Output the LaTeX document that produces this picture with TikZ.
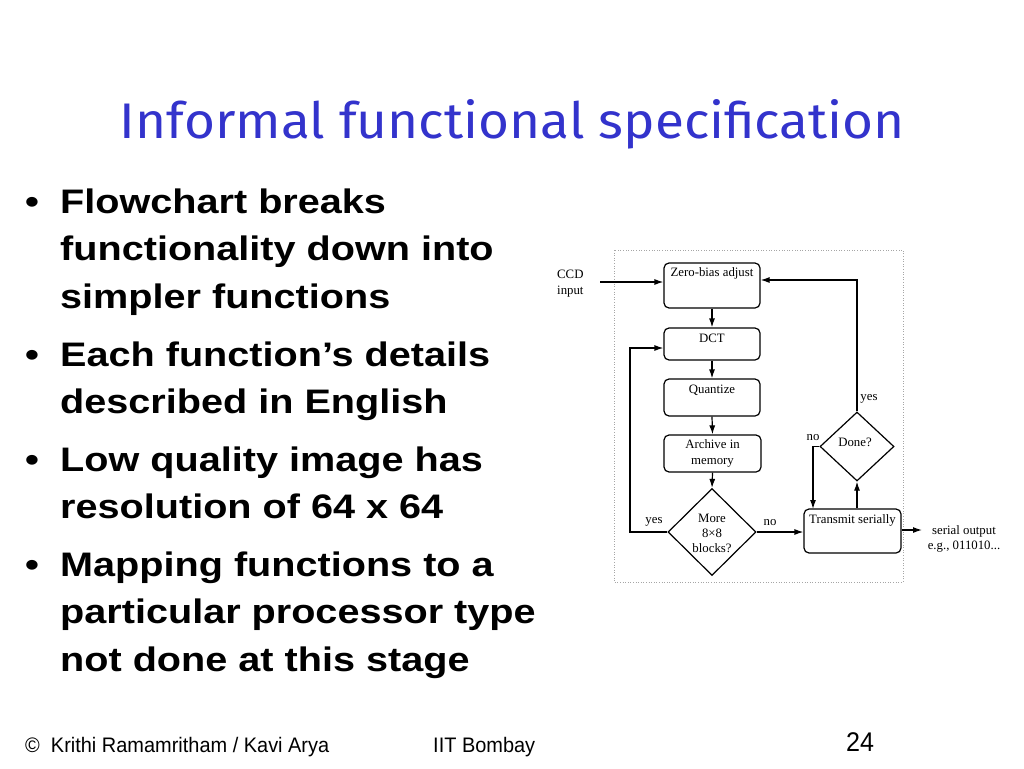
\documentclass[tikz,border=0pt]{standalone}
\usepackage{fontspec}
\setmainfont{Liberation Serif}
\newfontfamily\arialfont{Liberation Sans}
\newfontfamily\titlefont{Fira Sans}
\usetikzlibrary{arrows.meta,shapes.geometric}
\definecolor{titleblue}{RGB}{51,51,204}
\newcommand\bline[1]{\scalebox{1.165}[1]{#1}}
\newcommand\fline[1]{\scalebox{0.95}[1]{#1}}
\begin{document}
\begin{tikzpicture}[x=1pt,y=-1pt,
  box/.style={draw, rounded corners=5pt, line width=1.2pt, inner sep=0pt},
  dec/.style={draw, diamond, line width=1.2pt, inner sep=0pt},
  ftext/.style={inner sep=0pt, font=\fontsize{12.8pt}{15pt}\selectfont},
  flow/.style={line width=1.2pt, -{Latex[length=9pt,width=6pt]}},
  bl/.style={anchor=base west, inner sep=0pt, font=\arialfont\bfseries\fontsize{34pt}{40pt}\selectfont},
  foot/.style={anchor=base west, inner sep=0pt, font=\arialfont\fontsize{21pt}{24pt}\selectfont}]
\useasboundingbox (0,0) rectangle (1024,768);
\fill[white] (0,0) rectangle (1024,768);

% title
\node[anchor=base, inner sep=0pt, text=titleblue] (title) at (512.5,138)
  {\resizebox{785pt}{39pt}{\titlefont Informal functional specification}};

% bullets
\node[bl] (b1) at (25,213) {\bline{•}};
\node[bl] (l1) at (60,213) {\bline{Flowchart breaks}};
\node[bl] (l2) at (60,260) {\bline{functionality down into}};
\node[bl] (l3) at (60,308) {\bline{simpler functions}};
\node[bl] (b2) at (25,366) {\bline{•}};
\node[bl] (l4) at (60,366) {\bline{Each function’s details}};
\node[bl] (l5) at (60,413) {\bline{described in English}};
\node[bl] (b3) at (25,471) {\bline{•}};
\node[bl] (l6) at (60,471) {\bline{Low quality image has}};
\node[bl] (l7) at (60,518) {\bline{resolution of 64 x 64}};
\node[bl] (b4) at (25,576) {\bline{•}};
\node[bl] (l8) at (60,576) {\bline{Mapping functions to a}};
\node[bl] (l9) at (60,623) {\bline{particular processor type}};
\node[bl] (l10) at (60,671) {\bline{not done at this stage}};

% footer
\node[foot] (f1) at (25,752) {\fline{©\ \ Krithi Ramamritham / Kavi Arya}};
\node[foot] (f2) at (433,752) {\fline{IIT Bombay}};
\node[foot, font=\arialfont\fontsize{27pt}{30pt}\selectfont] (f3) at (846,751) {\scalebox{0.93}[1]{24}};

% flowchart frame
\draw[dotted, gray!70, line width=0.6pt] (614,250) rectangle (903,582);

% nodes
\node[box, minimum width=96pt, minimum height=45pt] (zb) at (712,285.5) {};
\node[ftext] (zbt) at (712,273) {Zero-bias adjust};
\node[box, minimum width=96pt, minimum height=32pt] (dct) at (712,344) {};
\node[ftext] (dctt) at (712,338) {DCT};
\node[box, minimum width=96pt, minimum height=37pt] (qu) at (712,397.5) {};
\node[ftext] (qut) at (712,390) {Quantize};
\node[box, minimum width=97pt, minimum height=37pt] (ar) at (712.5,453.5) {};
\node[ftext, align=center, font=\fontsize{12.8pt}{16pt}\selectfont] (art) at (712.5,453.5) {Archive in\\memory};
\node[dec, minimum width=88pt, minimum height=87pt] (more) at (712,532) {};
\node[ftext, align=center] (moret) at (712,533) {More\\8×8\\blocks?};
\node[box, minimum width=97pt, minimum height=44pt] (tr) at (852.5,531) {};
\node[ftext] (trt) at (852.5,520) {Transmit serially};
\node[dec, minimum width=74pt, minimum height=69pt] (done) at (857,446.5) {};
\node[ftext] (donet) at (855,442) {Done?};

% labels
\node[ftext, align=left, anchor=west, font=\fontsize{12.8pt}{16pt}\selectfont] (ccd) at (557,284) {CCD\\input};
\node[ftext, align=center] (sout) at (964,538.5) {serial output\\e.g., 011010...};
\node[ftext] (yes1) at (654,522) {yes};
\node[ftext] (no1) at (770,523) {no};
\node[ftext] (yes2) at (869,399) {yes};
\node[ftext] (no2) at (813,438) {no};

% connectors
\coordinate (ccdin) at (600,282);
\coordinate (soutend) at (922,530);
\draw[flow] (ccdin) -- (zb.west |- ccdin);
\draw[flow] (zb.south) -- (dct.north);
\draw[flow] (dct.south) -- (qu.north);
\draw[flow] (qu.south) -- (ar.north);
\draw[flow] (ar.south) -- (more.north);
\draw[flow] (more.west) -- (630,532) -- (630,348) -- (dct.west |- 0,348);
\draw[flow] (more.east) -- (tr.west |- more.east);
\draw[flow] (done.south |- tr.north) -- (done.south);
\draw[flow] (done.north) -- (857,280) -- (zb.east |- 0,280);
\draw[flow] (done.west) -- (813,446.5) -- (813,509);
\draw[flow] (tr.east |- soutend) -- (soutend);
\end{tikzpicture}
\end{document}
